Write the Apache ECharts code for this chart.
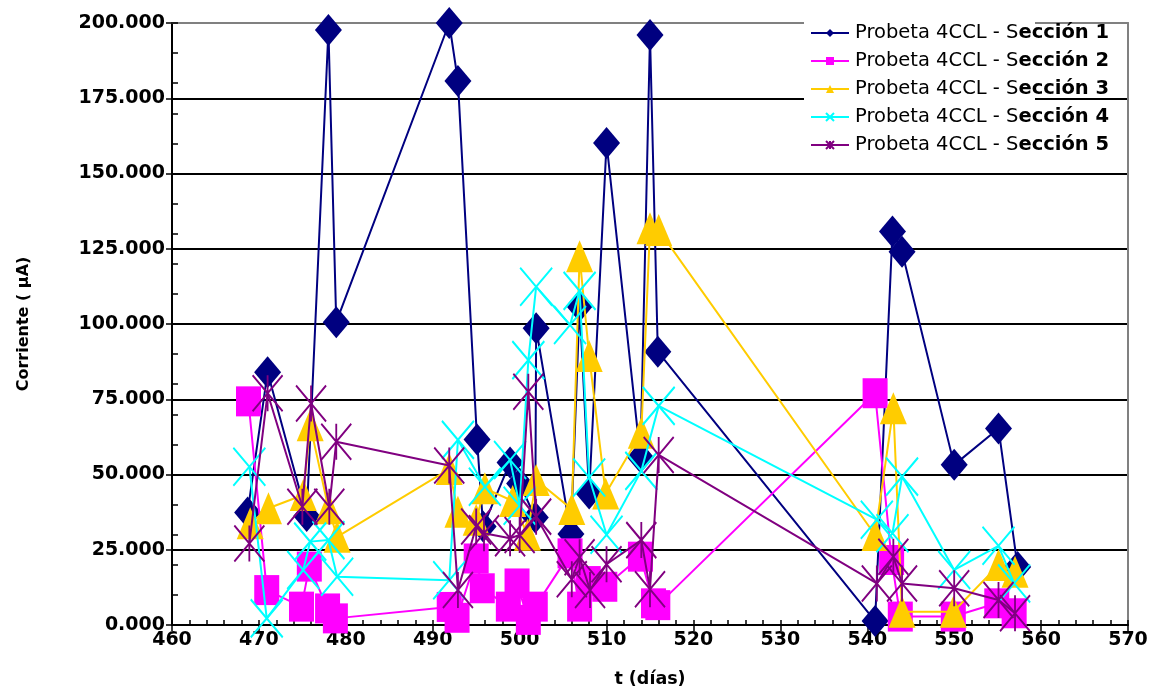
<!DOCTYPE html>
<html>
<head>
<meta charset="utf-8">
<script src="https://cdn.jsdelivr.net/npm/echarts@6/dist/echarts.min.js"></script>
<style>html,body{margin:0;padding:0;background:#fff}#c{width:1159px;height:695px}</style>
</head>
<body>
<div id="c"></div>
<script>
// ---- data (t in días, current in µA) ----
const seriesNames = [
  'Probeta 4CCL - Sección 1',
  'Probeta 4CCL - Sección 2',
  'Probeta 4CCL - Sección 3',
  'Probeta 4CCL - Sección 4',
  'Probeta 4CCL - Sección 5'
];
const s1_t = [468.7, 471.0, 475.5, 478.0, 478.9, 491.9, 492.9, 495.1, 495.8, 498.9, 500.0, 501.8, 501.9, 505.9, 506.9, 508.0, 510.0, 513.9, 515.0, 515.9, 540.9, 542.9, 544.0, 550.0, 555.1, 557.3];
const s1_v = [37400, 84000, 36200, 197700, 100600, 200000, 180700, 61600, 32700, 54000, 47000, 35700, 98600, 30200, 106000, 43700, 160100, 55700, 196000, 90800, 1300, 130700, 124000, 53200, 65300, 19300];
const s2_t = [468.8, 470.9, 474.9, 475.8, 477.9, 478.8, 491.9, 492.8, 495.0, 495.7, 498.7, 499.7, 501.0, 501.8, 505.8, 506.9, 507.9, 509.8, 513.9, 515.4, 515.9, 540.9, 542.8, 543.8, 549.9, 554.9, 556.9];
const s2_v = [74300, 11600, 6100, 19400, 5500, 2200, 6000, 2400, 22100, 12200, 6100, 13800, 1700, 6100, 23800, 6100, 14600, 12700, 22700, 7200, 6600, 77000, 21600, 2800, 2800, 7200, 3900];
const s3_t = [469.0, 471.1, 475.1, 475.9, 478.0, 479.0, 491.9, 492.9, 495.0, 496.0, 499.2, 500.9, 501.9, 506.0, 506.9, 508.0, 509.9, 514.0, 515.0, 516.0, 540.9, 543.0, 544.0, 549.9, 555.1, 557.0];
const s3_v = [33800, 38800, 43200, 66400, 38800, 29300, 51800, 37600, 35000, 45400, 41200, 30000, 48200, 38500, 122500, 89400, 43700, 63900, 131800, 131200, 29900, 72000, 4400, 4400, 19900, 17700];
const s4_t = [468.9, 470.9, 475.1, 475.9, 478.0, 479.0, 491.9, 492.9, 496.0, 498.9, 500.0, 501.0, 501.9, 505.8, 506.9, 508.0, 510.0, 514.0, 516.0, 541.1, 542.9, 544.0, 550.0, 555.1, 556.9];
const s4_v = [52600, 2200, 18300, 27700, 28200, 16000, 14900, 61500, 45900, 54800, 39600, 88000, 112400, 99700, 111000, 49000, 30000, 51200, 72800, 35000, 30500, 49300, 18300, 26300, 13800];
const s5_t = [468.9, 471.0, 475.0, 476.0, 478.1, 478.9, 491.9, 492.9, 495.0, 495.9, 498.9, 500.0, 501.0, 501.9, 506.0, 506.9, 508.1, 510.0, 514.0, 515.0, 516.0, 541.1, 543.0, 544.0, 550.0, 555.1, 557.0];
const s5_v = [27100, 77000, 39300, 73600, 39300, 60900, 53000, 11600, 32700, 30500, 28800, 29900, 77500, 36000, 15200, 22500, 11600, 20200, 28200, 11900, 56500, 13800, 22700, 13800, 12200, 8300, 3900];

const xMin = 460, xMax = 570, xStep = 10;
const yMin = 0, yMax = 200000, yStep = 25000;

const colors = ['#000080', '#FF00FF', '#FFCC00', '#00FFFF', '#800080'];
const symbols = [
  'diamond',
  'rect',
  'triangle',
  'path://M0 0L32 38M32 0L0 38',
  'path://M0 0L30 36M30 0L0 36M15 0L15 36'
];
const symbolSizes = [[27, 32], [25, 30], [27, 32], [32, 38], [30, 36]];
const stroked = [false, false, false, true, true];

function zip(t, v) { return t.map((x, i) => [x, v[i]]); }
const allData = [zip(s1_t, s1_v), zip(s2_t, s2_v), zip(s3_t, s3_v), zip(s4_t, s4_v), zip(s5_t, s5_v)];

const chart = echarts.init(document.getElementById('c'), null, { renderer: 'canvas' });
const labelFont = { fontFamily: 'DejaVu Sans', fontWeight: 'bold', fontSize: 19, color: '#000' };

const option = {
  backgroundColor: '#fff',
  animation: false,
  grid: { left: 172, right: 31, top: 23, bottom: 70, containLabel: false },
  graphic: [{
    type: 'rect', z: 1, silent: true,
    shape: { x: 804, y: 14, width: 231, height: 152 },
    style: { fill: '#fff' }
  }],
  legend: {
    orient: 'vertical',
    left: 810, top: 23,
    padding: 0,
    itemWidth: 38, itemHeight: 10, itemGap: 8,
    data: seriesNames,
    formatter: function (name) {
      const k = name.lastIndexOf('S');
      return name.slice(0, k + 1) + '{b|' + name.slice(k + 1) + '}';
    },
    textStyle: {
      fontFamily: 'DejaVu Sans', fontSize: 19.5, color: '#000', lineHeight: 20, padding: [0, 0, 0, 1],
      rich: { b: { fontFamily: 'DejaVu Sans', fontWeight: 600, fontSize: 19.5, color: '#000', lineHeight: 20 } }
    }
  },
  xAxis: [
    {
      type: 'value', min: xMin, max: xMax, interval: xStep, position: 'bottom',
      name: 't (días)', nameLocation: 'middle', nameGap: 45,
      nameTextStyle: { fontFamily: 'DejaVu Sans', fontWeight: 'bold', fontSize: 17.5, color: '#000' },
      axisLine: { onZero: false, lineStyle: { color: '#000', width: 2 } },
      axisTick: { show: true, inside: false, length: 6, lineStyle: { color: '#000', width: 1.5 } },
      axisLabel: Object.assign({ margin: 6 }, labelFont),
      splitLine: { show: false }
    },
    {
      type: 'value', min: xMin, max: xMax, interval: 2, position: 'bottom',
      axisLine: { show: false, onZero: false },
      axisTick: { show: true, inside: true, length: 5, lineStyle: { color: '#000', width: 1.5 } },
      axisLabel: { show: false },
      splitLine: { show: false }
    },
    {
      type: 'value', min: xMin, max: xMax, position: 'top',
      axisLine: { show: true, onZero: false, lineStyle: { color: '#808080', width: 2 } },
      axisTick: { show: false }, axisLabel: { show: false }, splitLine: { show: false }
    }
  ],
  yAxis: [
    {
      type: 'value', min: yMin, max: yMax, interval: yStep, position: 'left',
      name: 'Corriente ( µA)', nameLocation: 'middle', nameGap: 140, nameRotate: 90,
      nameTextStyle: { fontFamily: 'DejaVu Sans', fontWeight: 'bold', fontSize: 16, color: '#000' },
      axisLine: { show: true, onZero: false, lineStyle: { color: '#000', width: 2 } },
      axisTick: { show: true, inside: false, length: 6, lineStyle: { color: '#000', width: 1.5 } },
      axisLabel: Object.assign({ margin: 7, formatter: v => (v / 1000).toFixed(3) }, labelFont),
      splitLine: { show: true, showMinLine: false, showMaxLine: false, lineStyle: { color: '#000', width: 2 } }
    },
    {
      type: 'value', min: yMin, max: yMax, interval: 10000, position: 'left',
      axisLine: { show: false, onZero: false },
      axisTick: { show: true, inside: true, length: 6, lineStyle: { color: '#000', width: 1.5 } },
      axisLabel: { show: false }, splitLine: { show: false }
    },
    {
      type: 'value', min: yMin, max: yMax, position: 'right',
      axisLine: { show: true, onZero: false, lineStyle: { color: '#808080', width: 2 } },
      axisTick: { show: false }, axisLabel: { show: false }, splitLine: { show: false }
    }
  ],
  series: seriesNames.map((name, i) => ({
    name: name,
    type: 'line',
    xAxisIndex: 0, yAxisIndex: 0,
    data: allData[i],
    symbol: symbols[i],
    symbolSize: symbolSizes[i],
    showAllSymbol: true,
    lineStyle: { color: colors[i], width: 2 },
    itemStyle: stroked[i]
      ? { color: colors[i], borderColor: colors[i], borderWidth: 2 }
      : { color: colors[i], borderWidth: 0 },
    emphasis: { disabled: true },
    z: 2 + i * 0.01
  }))
};
chart.setOption(option);
</script>
</body>
</html>
